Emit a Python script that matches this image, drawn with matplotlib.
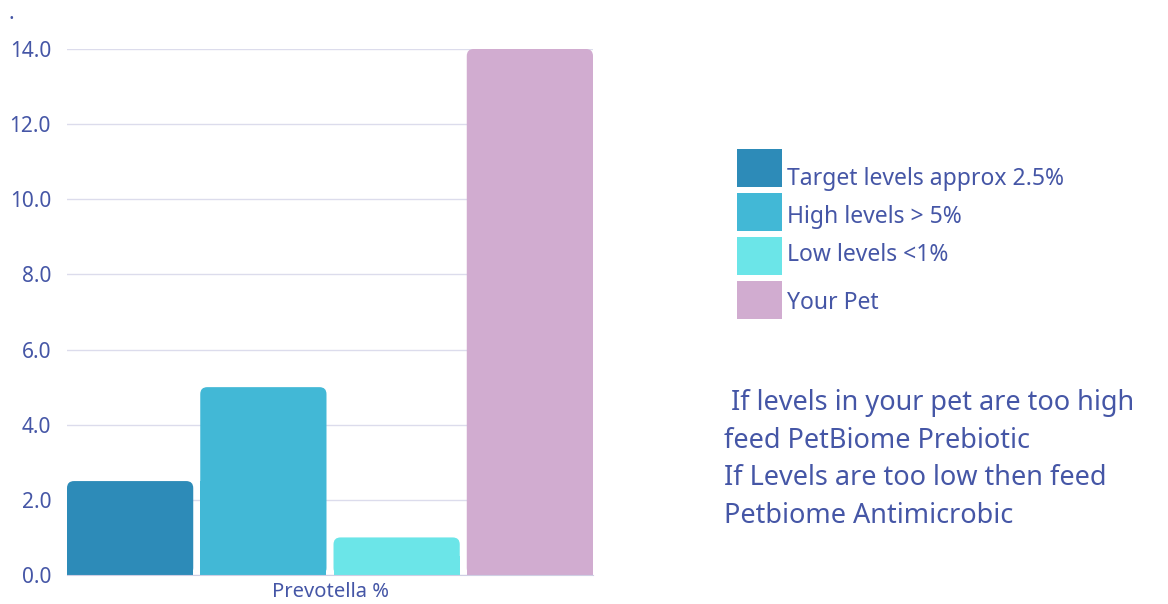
import matplotlib.pyplot as plt
from matplotlib.patches import FancyBboxPatch, Rectangle

# Prevotella levels
category = "Prevotella %"
labels = ["Target levels approx 2.5%", "High levels > 5%", "Low levels <1%", "Your Pet"]
values = [2.5, 5.0, 1.0, 14.0]
colors = ["#2d8bb8", "#42b8d6", "#6be5e8", "#d1acd0"]
yticks = [0, 2, 4, 6, 8, 10, 12, 14]
advice = [" If levels in your pet are too high",
          "feed PetBiome Prebiotic",
          "If Levels are too low then feed",
          "Petbiome Antimicrobic"]

text_col = "#4556a6"
grid_col = "#dcdcec"

plt.rcParams["font.family"] = ["Noto Sans", "DejaVu Sans"]

W, H = 1168, 604
fig = plt.figure(figsize=(W / 100, H / 100), dpi=100)
ax = fig.add_axes([67 / W, 1 - 575 / H, 526 / W, 526 / H])


def fx(px):
    return px / W


def fy(py):
    return 1 - py / H


w, gap = 126, 7
xs = [i * (w + gap) for i in range(len(values))]
bars = ax.bar(xs, values, width=w, color=colors, label=labels, zorder=2)

ax.set_xlim(xs[0] - w / 2, xs[-1] + w / 2)
ax.set_ylim(0, 14)

# round off the top corners of each bar
r_px = 7
px_x = (ax.get_xlim()[1] - ax.get_xlim()[0]) / ax.bbox.width
px_y = (ax.get_ylim()[1] - ax.get_ylim()[0]) / ax.bbox.height
for b in bars:
    x0, y0 = b.get_x(), b.get_y()
    bw, bh = b.get_width(), b.get_height()
    b.set_visible(False)
    ax.add_patch(FancyBboxPatch((x0, y0), bw, bh,
                                boxstyle=f"round,pad=0,rounding_size={r_px * px_x}",
                                mutation_aspect=px_y / px_x,
                                fc=b.get_facecolor(), ec="none", zorder=2, clip_on=False))
    ax.add_patch(Rectangle((x0, y0), bw, bh / 2, fc=b.get_facecolor(), ec="none", zorder=2))

ax.set_yticks(yticks)
ax.set_yticklabels([f"{t:.1f}" for t in yticks], fontsize=15, color=text_col)
ax.set_xticks([(xs[0] + xs[-1]) / 2])
ax.set_xticklabels([category], fontsize=14.5, color=text_col)
ax.tick_params(axis="y", length=0, pad=11.5)
ax.tick_params(axis="x", length=0, pad=5)
ax.grid(axis="y", color=grid_col, lw=1, zorder=0)
ax.set_axisbelow(True)
for s in ["top", "right", "left"]:
    ax.spines[s].set_visible(False)
ax.spines["bottom"].set_color("#cfcfe4")

# legend: colour swatches with their labels
box_tops = [149, 193, 237, 281]
label_base = [185, 223, 261, 309]
for c, lab, top, base in zip(colors, labels, box_tops, label_base):
    fig.add_artist(Rectangle((fx(737), fy(top + 38)), 45 / W, 38 / H,
                             transform=fig.transFigure, fc=c, ec="none"))
    fig.text(fx(787), fy(base), lab, fontsize=16.5, color=text_col, va="baseline")

fig.text(fx(9), fy(19), ".", fontsize=15, color=text_col, va="baseline")

for i, line in enumerate(advice):
    fig.text(fx(724), fy(410 + 37.7 * i), line, fontsize=19.5,
             color=text_col, va="baseline", ha="left")

fig.savefig("out.png", dpi=100, facecolor="white")
